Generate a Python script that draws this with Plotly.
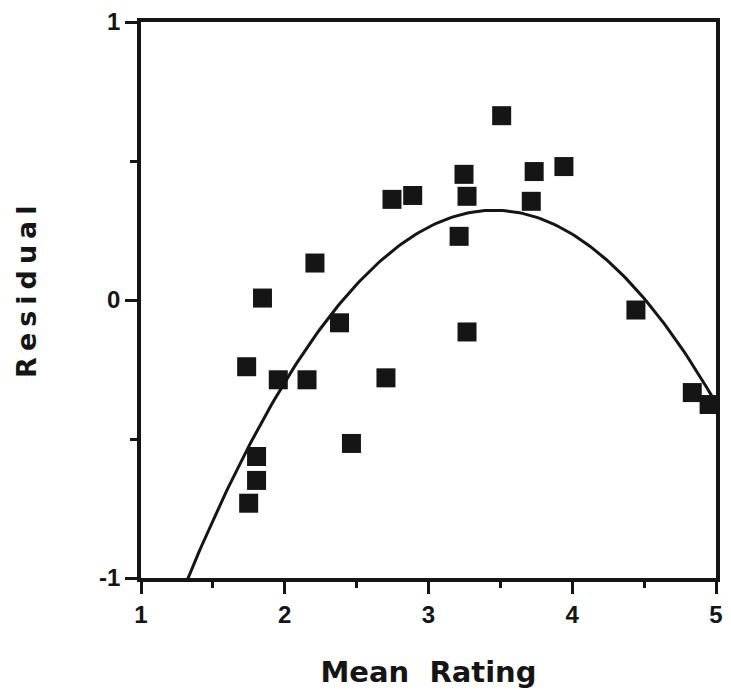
import numpy as np
import plotly.graph_objects as go

# Mean rating (x) and residual (y) for each item
mean_rating = [1.735, 1.845, 1.804, 1.804, 1.749, 1.955, 2.155, 2.210, 2.381, 2.464,
               2.704, 2.746, 2.890, 3.213, 3.247, 3.268, 3.268, 3.509, 3.715, 3.735,
               3.942, 4.443, 4.835, 4.952]
residual = [-0.240, 0.007, -0.563, -0.649, -0.731, -0.287, -0.287, 0.133, -0.082, -0.516,
            -0.280, 0.362, 0.376, 0.229, 0.452, 0.373, -0.115, 0.663, 0.355, 0.462,
            0.480, -0.036, -0.333, -0.376]

x_ticks = [1, 2, 3, 4, 5]
y_ticks = [-1, 0, 1]

# Quadratic trend fitted to the residuals
coef = np.polyfit(mean_rating, residual, 2)
xs = np.linspace(1.0, 5.0, 200)
ys = np.polyval(coef, xs)

ink = "#151515"
tick_font = dict(family="Liberation Sans", size=24, color=ink, weight="bold")
title_font = dict(family="DejaVu Sans", size=29, color=ink, weight="bold")

fig = go.Figure()
fig.add_trace(go.Scatter(x=xs, y=ys, mode="lines",
                         line=dict(color=ink, width=3), hoverinfo="skip"))
fig.add_trace(go.Scatter(x=mean_rating, y=residual, mode="markers",
                         marker=dict(symbol="square", size=19, color=ink,
                                     line=dict(width=0))))

axis_common = dict(showgrid=False, zeroline=False, showline=True, linecolor=ink,
                   linewidth=3.5, mirror=True, ticks="outside", ticklen=12,
                   tickwidth=3, tickcolor=ink, tickfont=tick_font)

fig.update_layout(
    width=731, height=692,
    margin=dict(l=141, r=8, t=20, b=114),
    plot_bgcolor="white", paper_bgcolor="white",
    showlegend=False,
    xaxis=dict(range=[1, 5], tickvals=x_ticks, ticktext=[str(v) for v in x_ticks],
               minor=dict(dtick=0.5, ticks="outside", ticklen=6, tickwidth=3,
                          tickcolor=ink, showgrid=False),
               title=dict(text="\u00a0Mean\u00a0\u00a0Rating", font=title_font, standoff=36),
               **axis_common),
    yaxis=dict(range=[-1, 1], tickvals=y_ticks, ticktext=[str(v) for v in y_ticks],
               minor=dict(dtick=0.5, ticks="outside", ticklen=7, tickwidth=3,
                          tickcolor=ink, showgrid=False),
               **axis_common),
    annotations=[dict(text="Residual", textangle=-90, showarrow=False,
                      xref="paper", yref="paper", x=0, y=0.52,
                      xanchor="center", yanchor="middle", xshift=-114,
                      font=dict(family="DejaVu Sans", size=27, color=ink,
                                weight="bold"))],
)

fig.write_html("out.html",
               post_script="document.querySelectorAll('.annotation-text').forEach(function(e){e.style.letterSpacing='6px';});")
